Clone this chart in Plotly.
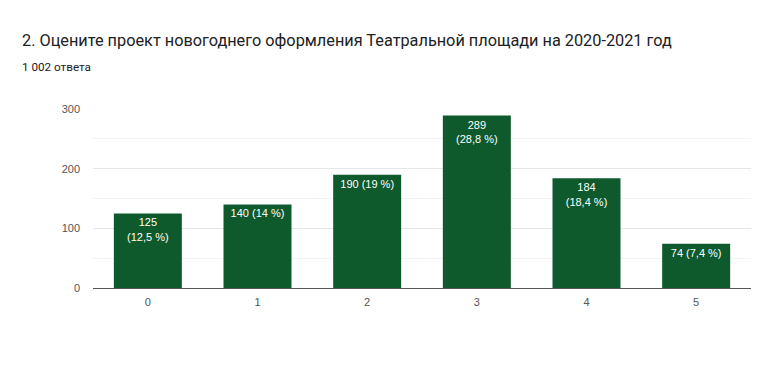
import plotly.graph_objects as go

categories = ["0", "1", "2", "3", "4", "5"]
counts = [125, 140, 190, 289, 184, 74]
labels = ["125<br>(12,5 %)", "140 (14 %)", "190 (19 %)", "289<br>(28,8 %)", "184<br>(18,4 %)", "74 (7,4 %)"]
title_text = "2. Оцените проект новогоднего оформления Театральной площади на 2020-2021 год"
subtitle_text = "1 002 ответа"

fig = go.Figure(go.Bar(
    x=categories, y=counts, text=labels,
    textposition="inside", insidetextanchor="end",
    textfont=dict(color="white", size=11, family="Liberation Sans, Arial"),
    marker=dict(color="#0e5a2c", line=dict(width=0)),
    width=0.62, textangle=0,
))

fig.update_layout(
    width=765, height=367,
    margin=dict(l=85, r=22, t=101, b=87),
    paper_bgcolor="white", plot_bgcolor="white",
    font=dict(family="Liberation Sans, Arial", color="#444"),
    showlegend=False,
    uniformtext=dict(minsize=8, mode="show"),
)
fig.add_annotation(text=title_text, xref="paper", yref="paper", x=-0.111, y=1.0, yshift=69,
                   xanchor="left", yanchor="middle", showarrow=False,
                   font=dict(size=16.3, color="#202124", family="Roboto"))
fig.add_annotation(text=subtitle_text, xref="paper", yref="paper", x=-0.111, y=1.0, yshift=42,
                   xanchor="left", yanchor="middle", showarrow=False,
                   font=dict(size=11.7, color="#202124", family="Roboto"))

fig.update_yaxes(range=[0, 300], tickvals=[0, 100, 200, 300], showgrid=True,
                 gridcolor="#e6e6e6", gridwidth=1,
                 minor=dict(tickvals=[50, 150, 250], showgrid=True, gridcolor="#f3f3f3"),
                 zeroline=True, zerolinecolor="#555", zerolinewidth=1,
                 tickfont=dict(size=11, color="#555"), ticks="",
                 ticklabelstandoff=12)
fig.update_xaxes(tickfont=dict(size=11, color="#555"), ticks="", ticklabelstandoff=6,
                 showline=False)

fig.write_html("out.html")
